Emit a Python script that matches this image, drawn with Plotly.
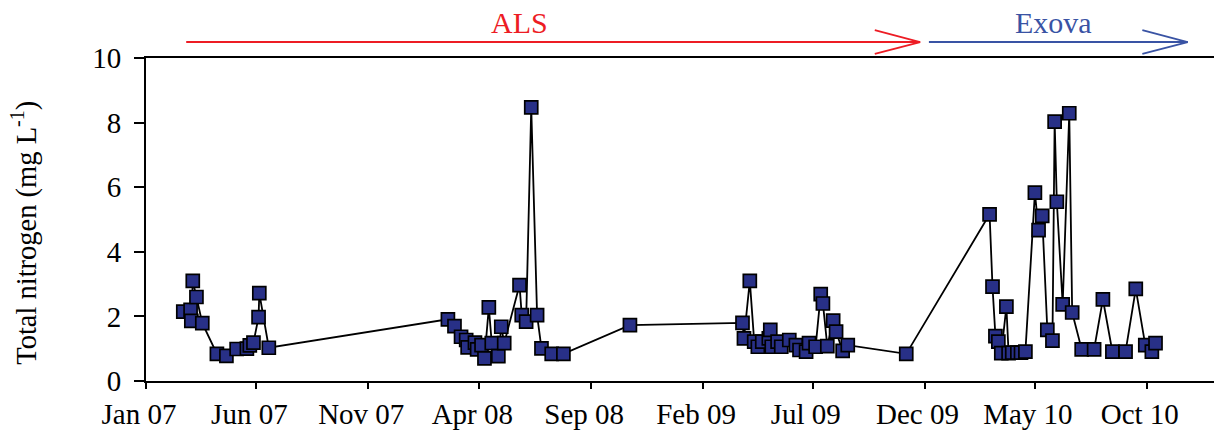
import plotly.graph_objects as go
import pandas as pd

# ---- data ----
dates_2007 = ["2007-02-21", "2007-03-03", "2007-03-04", "2007-03-06", "2007-03-11",
              "2007-03-19", "2007-04-08", "2007-04-21", "2007-05-05", "2007-05-19",
              "2007-05-23", "2007-05-28", "2007-06-04", "2007-06-05", "2007-06-18"]
tn_2007 = [2.15, 2.20, 1.86, 3.10, 2.60, 1.79, 0.84, 0.78, 0.99, 1.00,
           1.10, 1.19, 1.98, 2.72, 1.03]

dates_2008 = ["2008-02-18", "2008-02-27", "2008-03-07", "2008-03-14", "2008-03-16",
              "2008-03-26", "2008-03-29", "2008-04-04", "2008-04-08", "2008-04-14",
              "2008-04-18", "2008-04-27", "2008-05-01", "2008-05-05", "2008-05-26",
              "2008-05-29", "2008-06-04", "2008-06-11", "2008-06-19", "2008-06-25",
              "2008-07-09", "2008-07-25", "2008-10-24"]
tn_2008 = [1.91, 1.70, 1.37, 1.27, 1.04, 1.19, 0.98, 1.11, 0.70, 2.28,
           1.17, 0.77, 1.68, 1.17, 2.97, 2.04, 1.84, 8.47, 2.04, 1.01,
           0.84, 0.84, 1.73]

dates_2009 = ["2009-03-27", "2009-03-29", "2009-04-06", "2009-04-12", "2009-04-17",
              "2009-04-23", "2009-05-02", "2009-05-04", "2009-05-06", "2009-05-14",
              "2009-05-19", "2009-05-30", "2009-06-08", "2009-06-13", "2009-06-22",
              "2009-06-26", "2009-07-05", "2009-07-12", "2009-07-15", "2009-07-21",
              "2009-07-29", "2009-08-02", "2009-08-11", "2009-08-18", "2009-11-06"]
tn_2009 = [1.80, 1.32, 3.10, 1.22, 1.06, 1.22, 1.32, 1.58, 1.06, 1.22,
           1.06, 1.27, 1.11, 0.96, 0.91, 1.17, 1.06, 2.69, 2.40, 1.08,
           1.87, 1.53, 0.93, 1.11, 0.84]

dates_2010 = ["2010-02-28", "2010-03-04", "2010-03-08", "2010-03-12", "2010-03-16",
              "2010-03-23", "2010-03-26", "2010-03-31", "2010-04-07", "2010-04-12",
              "2010-04-18", "2010-05-01", "2010-05-06", "2010-05-11", "2010-05-18",
              "2010-05-25", "2010-05-28", "2010-05-31", "2010-06-08", "2010-06-17",
              "2010-06-21", "2010-07-04", "2010-07-21", "2010-08-02", "2010-08-15",
              "2010-09-02", "2010-09-16", "2010-09-29", "2010-10-08", "2010-10-13"]
tn_2010 = [5.16, 2.92, 1.39, 1.22, 0.86, 2.30, 0.86, 0.88, 0.88, 0.88,
           0.91, 5.83, 4.67, 5.11, 1.58, 1.25, 8.03, 5.55, 2.37, 8.29,
           2.12, 0.98, 0.98, 2.53, 0.91, 0.91, 2.85, 1.11, 0.91, 1.17]

tick_dates = ["2007-01-01", "2007-06-01", "2007-11-01", "2008-04-01", "2008-09-01",
              "2009-02-01", "2009-07-01", "2009-12-01", "2010-05-01", "2010-10-01"]
tick_labels = ["Jan 07", "Jun 07", "Nov 07", "Apr 08", "Sep 08",
               "Feb 09", "Jul 09", "Dec 09", "May 10", "Oct 10"]
y_ticks = [0, 2, 4, 6, 8, 10]

lab_names = ["ALS", "Exova"]
lab_start = ["2007-02-25", "2009-12-07"]
lab_end = ["2009-11-25", "2010-11-26"]
lab_label_date = ["2008-05-26", "2010-05-27"]
lab_colors = ["#ED1C24", "#3953A4"]

# ---- figure ----
dates = dates_2007 + dates_2008 + dates_2009 + dates_2010
tn = tn_2007 + tn_2008 + tn_2009 + tn_2010

FONT = "Liberation Serif, Times New Roman, serif"

fig = go.Figure()
fig.add_trace(go.Scatter(
    x=dates, y=tn, mode="lines+markers",
    line=dict(color="black", width=1.8),
    marker=dict(symbol="square", size=13, color="#283087",
                line=dict(color="black", width=1.7)),
    showlegend=False, cliponaxis=False,
))

shapes = []
annotations = []
y_arrow = 1.0495
arm_dy = 0.037
for name, s, e, lx, col in zip(lab_names, lab_start, lab_end, lab_label_date, lab_colors):
    arm_x = (pd.Timestamp(e) - pd.Timedelta(days=62)).strftime("%Y-%m-%d")
    common = dict(type="line", xref="x", yref="paper", line=dict(color=col, width=1.8))
    shapes.append(dict(x0=s, x1=e, y0=y_arrow, y1=y_arrow, **common))
    shapes.append(dict(x0=arm_x, x1=e, y0=y_arrow + arm_dy, y1=y_arrow, **common))
    shapes.append(dict(x0=arm_x, x1=e, y0=y_arrow - arm_dy, y1=y_arrow, **common))
    annotations.append(dict(text=name, x=lx, xref="x", y=1.111, yref="paper",
                            xanchor="center", yanchor="middle", showarrow=False,
                            font=dict(family=FONT, size=30, color=col)))

annotations.append(dict(text="Total nitrogen (mg L<sup>-1</sup>)", textangle=-90,
                        x=-0.1145, xref="paper", y=0.458, yref="paper",
                        xanchor="center", yanchor="middle", showarrow=False,
                        font=dict(family=FONT, size=28.5, color="black")))

fig.update_layout(
    template="none",
    width=1214, height=436,
    margin=dict(l=146, r=0, t=58, b=55, autoexpand=False),
    paper_bgcolor="white", plot_bgcolor="white",
    font=dict(family=FONT, size=29, color="black"),
    shapes=shapes, annotations=annotations,
    hovermode=False,
    xaxis=dict(range=["2007-01-01", "2011-01-01"], tickvals=tick_dates, ticktext=tick_labels,
               showgrid=False, zeroline=False, showline=True, mirror=True, automargin=False,
               linecolor="black", linewidth=2, ticks="outside", ticklen=6,
               tickwidth=1.5, tickcolor="black", ticklabelshift=-7,
               tickfont=dict(family=FONT, size=29)),
    yaxis=dict(range=[0, 10], tickvals=y_ticks, showgrid=False, zeroline=False,
               showline=True, linecolor="black", linewidth=2, ticks="outside", automargin=False,
               ticklen=10, tickwidth=2, tickcolor="black", ticklabelstandoff=7,
               tickfont=dict(family=FONT, size=29)),
)

# remove the browser's default page margin so the figure fills the window
fig.write_html("out.html", config={"displayModeBar": False},
               post_script="document.body.style.margin='0';document.body.style.overflow='hidden';")
